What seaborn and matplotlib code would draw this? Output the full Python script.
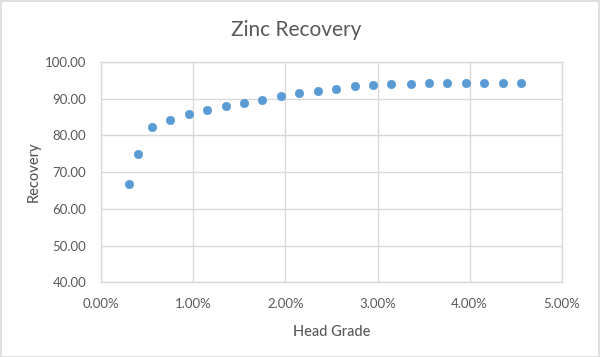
import matplotlib
matplotlib.use("Agg")
import matplotlib.pyplot as plt
import matplotlib.ticker as mticker
from matplotlib.patches import Rectangle
import seaborn as sns
import pandas as pd

# Data (head grade as fraction, recovery in %)
head_grade = [0.0030, 0.0040, 0.0055, 0.0075, 0.0095, 0.0115, 0.0135, 0.0155,
              0.0175, 0.0195, 0.0215, 0.0235, 0.0255, 0.0275, 0.0295, 0.0315,
              0.0336, 0.0356, 0.0376, 0.0396, 0.0416, 0.0436, 0.0456]
recovery = [66.8, 75.0, 82.3, 84.1, 85.7, 86.8, 88.0, 88.9, 89.7, 90.6, 91.4,
            92.1, 92.7, 93.3, 93.6, 93.9, 93.9, 94.1, 94.1, 94.1, 94.1, 94.1, 94.1]
x_ticks = [0.0, 0.01, 0.02, 0.03, 0.04, 0.05]
y_ticks = [40, 50, 60, 70, 80, 90, 100]

df = pd.DataFrame({"Head Grade": head_grade, "Recovery": recovery})

sns.set_theme(style="white")
plt.rcParams["font.family"] = ["Lato", "DejaVu Sans"]

text_color = "#595959"
grid_color = "#d9d9d9"

fig = plt.figure(figsize=(6.0, 3.57), dpi=100)
ax = fig.add_axes([0.169, 0.209, 0.767, 0.618])

sns.scatterplot(data=df, x="Head Grade", y="Recovery", ax=ax,
                color="#5B9BD5", edgecolor="#5B9BD5", s=36, linewidth=0.5,
                zorder=3)

ax.set_xlim(0, 0.05)
ax.set_ylim(40, 100)
ax.set_xticks(x_ticks)
ax.set_yticks(y_ticks)
ax.xaxis.set_major_formatter(mticker.FuncFormatter(lambda v, p: f"{v*100:.2f}%"))
ax.yaxis.set_major_formatter(mticker.FuncFormatter(lambda v, p: f"{v:.2f}"))

ax.grid(True, color=grid_color, linewidth=1)
ax.set_axisbelow(True)
for sp in ax.spines.values():
    sp.set_color(grid_color)
    sp.set_linewidth(1)

ax.tick_params(axis="both", length=0, labelsize=9.5, labelcolor=text_color)
ax.tick_params(axis="y", pad=11)
ax.tick_params(axis="x", pad=11)

ax.set_xlabel("Head Grade", fontsize=10.5, color=text_color, fontweight="medium", labelpad=11)
ax.set_ylabel("Recovery", fontsize=10.5, color=text_color, fontweight="medium", labelpad=3)
fig.suptitle("Zinc Recovery", x=0.493, y=0.945, fontsize=15, color=text_color)

fig.patches.append(Rectangle((0.001, 0.001), 0.998, 0.997, transform=fig.transFigure,
                             fill=False, edgecolor=grid_color, linewidth=1.2))

fig.savefig("out.png", dpi=100)
